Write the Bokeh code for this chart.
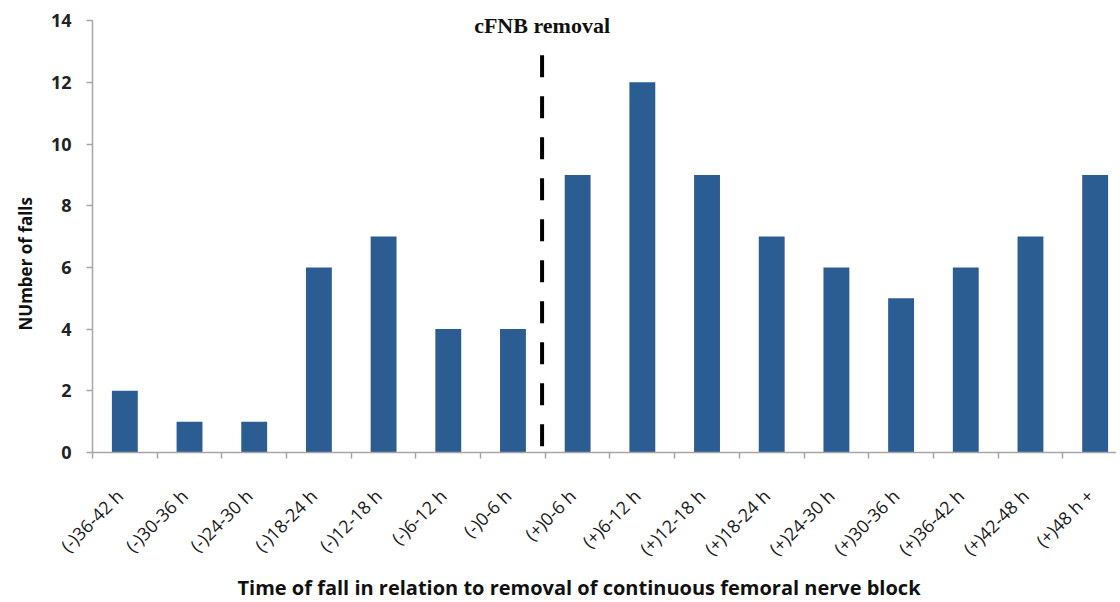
import numpy as np
from bokeh.plotting import figure
from bokeh.models import Range1d, FixedTicker, Label, ColumnDataSource, Title
from bokeh.embed import file_html
from bokeh.resources import INLINE

categories = ["(-)36-42 h", "(-)30-36 h", "(-)24-30 h", "(-)18-24 h", "(-)12-18 h",
              "(-)6-12 h", "(-)0-6 h", "(+)0-6 h", "(+)6-12 h", "(+)12-18 h",
              "(+)18-24 h", "(+)24-30 h", "(+)30-36 h", "(+)36-42 h", "(+)42-48 h",
              "(+)48 h +"]
falls = [2, 1, 1, 6, 7, 4, 4, 9, 12, 9, 7, 6, 5, 6, 7, 9]
y_ticks = [0, 2, 4, 6, 8, 10, 12, 14]
removal_index = 7  # boundary between (-)0-6 h and (+)0-6 h

centers = np.arange(len(categories)) + 0.5
bounds = list(range(len(categories) + 1))
label_pos = [round(float(c) - 0.08, 3) for c in centers]

p = figure(width=1116, height=602, output_backend="svg", toolbar_location=None,
           x_range=Range1d(0, 15.83), y_range=Range1d(0, 14.2),
           min_border_left=92, min_border_right=0, min_border_top=14,
           min_border_bottom=150)
p.outline_line_color = None
p.grid.visible = False
p.background_fill_color = "white"

src = ColumnDataSource(dict(x=centers, top=falls))
p.vbar(x="x", top="top", width=0.4, bottom=0, source=src,
       fill_color="#2B5C92", line_color=None)

p.line(x=[removal_index - 0.05] * 2, y=[0.2, 13.0], line_color="black",
       line_width=4, line_dash="22 19")

ax = p.xaxis[0]
ax.ticker = FixedTicker(ticks=label_pos, minor_ticks=bounds)
ax.major_label_overrides = {lp: lab for lp, lab in zip(label_pos, categories)}
ax.major_label_orientation = np.pi / 4
ax.major_tick_line_color = None
ax.minor_tick_line_color = "#a6a6a6"
ax.minor_tick_out = 6
ax.minor_tick_in = 0
ax.minor_tick_line_width = 1.5
ax.axis_line_color = "#a6a6a6"
ax.axis_line_width = 1.5
ax.major_label_standoff = 34
ax.major_label_text_font = "Open Sans"
ax.major_label_text_font_size = "18px"
ax.major_label_text_color = "#1a1a1a"

ay = p.yaxis[0]
ay.ticker = FixedTicker(ticks=y_ticks)
ay.bounds = (0, 14)
ay.minor_tick_line_color = None
ay.major_tick_line_color = "#a6a6a6"
ay.major_tick_out = 6
ay.major_tick_in = 0
ay.major_tick_line_width = 1.5
ay.axis_line_color = "#a6a6a6"
ay.axis_line_width = 1.5
ay.major_label_standoff = 15
ay.major_label_text_font = "Open Sans"
ay.major_label_text_font_size = "18px"
ay.major_label_text_font_style = "bold"
ay.major_label_text_color = "#222222"

p.add_layout(Label(x=removal_index - 0.05, y=13.84, text="cFNB removal",
                   text_font="Liberation Serif", text_font_style="bold",
                   text_font_size="22px", text_align="center",
                   text_baseline="middle", text_color="#111111"))

p.add_layout(Title(text="Time of fall in relation to removal of continuous femoral nerve block",
                   align="left", offset=145, text_font="Open Sans",
                   text_font_style="bold", text_font_size="20px",
                   text_color="#111111", standoff=1), "below")
p.add_layout(Title(text="NUmber of falls", align="left", offset=122,
                   text_font="Open Sans", text_font_style="bold",
                   text_font_size="17px", text_color="#111111", standoff=22), "left")

open("out.html", "w").write(file_html(p, INLINE))
